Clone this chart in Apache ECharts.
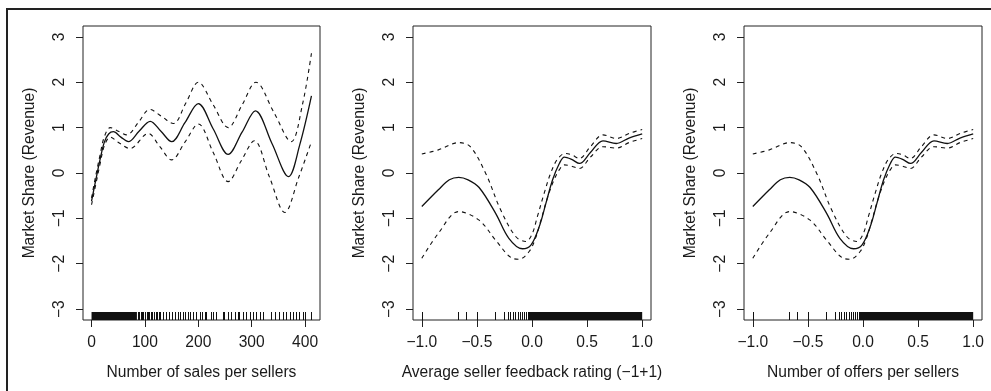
<!DOCTYPE html>
<html><head><meta charset="utf-8">
<script src="https://cdn.jsdelivr.net/npm/echarts@6/dist/echarts.min.js"></script>
<style>html,body{margin:0;padding:0;background:#fff}#c{width:991px;height:391px}</style>
</head><body><div id="c"></div>
<script>
// ---- tick labels ----
const yTicks = [-3, -2, -1, 0, 1, 2, 3];
const salesTicks = [0, 100, 200, 300, 400];
const ratingTicks = [-1, -0.5, 0, 0.5, 1];

// ---- panel titles ----
const yTitle = 'Market Share (Revenue)';
const xTitles = ['Number of sales per sellers', 'Average seller feedback rating (\u22121+1)', 'Number of offers per sellers'];

// ---- panel 1: number of sales per seller ----
const salesFit = [[0,-0.62],[8,-0.15],[16,0.3],[24,0.68],[32,0.86],[41,0.91],[55,0.79],[69,0.69],[89,0.92],[110,1.14],[130,0.92],[150,0.69],[175,1.11],[200,1.53],[228,0.97],[256,0.41],[282,0.9],[307,1.37],[338,0.65],[369,-0.08],[390,0.62],[412,1.70]];
const salesUpper = [[0,-0.55],[8,-0.05],[16,0.4],[24,0.8],[35,1.0],[50,0.92],[66,0.84],[88,1.12],[109,1.40],[131,1.25],[153,1.09],[177,1.55],[200,2.0],[228,1.5],[256,1.0],[282,1.5],[308,2.0],[341,1.35],[374,0.69],[395,1.5],[412,2.64]];
const salesLower = [[0,-0.7],[8,-0.25],[16,0.2],[24,0.6],[35,0.79],[52,0.66],[72,0.54],[106,0.87],[128,0.58],[150,0.29],[175,0.68],[200,1.08],[228,0.45],[256,-0.19],[280,0.26],[305,0.71],[333,-0.08],[362,-0.87],[388,-0.1],[412,0.69]];
const salesRugTicks = [87,89,92,95,97,100,103,106,108,111,114,117,120,123,126,128,134,140,145,150,156,162,165,172,175,181,184,190,196,203,206,212,215,224,228,234,246,249,256,262,268,274,277,284,290,296,302,308,315,321,336,343,352,358,364,371,377,383,389,396,400,412];
const salesRugDense = [[0,85]];

// ---- panel 2: average seller feedback rating ----
const ratingFit = [[-1.0,-0.74],[-0.85,-0.37],[-0.75,-0.15],[-0.665,-0.095],[-0.58,-0.15],[-0.48,-0.32],[-0.33,-0.89],[-0.21,-1.44],[-0.087,-1.67],[-0.01,-1.59],[0.066,-1.18],[0.126,-0.67],[0.187,-0.15],[0.248,0.21],[0.294,0.35],[0.36,0.30],[0.431,0.21],[0.53,0.45],[0.644,0.71],[0.765,0.65],[0.88,0.77],[1.0,0.86]];
const ratingUpper = [[-1.0,0.42],[-0.85,0.51],[-0.665,0.67],[-0.56,0.58],[-0.42,-0.01],[-0.285,-0.81],[-0.148,-1.40],[-0.056,-1.51],[0.0,-1.35],[0.05,-0.95],[0.11,-0.45],[0.17,0.0],[0.23,0.30],[0.30,0.43],[0.36,0.40],[0.43,0.32],[0.53,0.58],[0.644,0.84],[0.765,0.76],[0.88,0.87],[1.0,0.96]];
const ratingLower = [[-1.0,-1.88],[-0.85,-1.33],[-0.665,-0.85],[-0.48,-1.04],[-0.33,-1.48],[-0.178,-1.88],[-0.117,-1.90],[-0.026,-1.73],[0.03,-1.45],[0.08,-1.05],[0.14,-0.55],[0.20,-0.15],[0.25,0.08],[0.294,0.18],[0.36,0.15],[0.431,0.10],[0.53,0.35],[0.644,0.58],[0.765,0.55],[0.88,0.67],[1.0,0.76]];
const ratingRugTicks = [-1.0,-0.67,-0.6,-0.5,-0.34,-0.25,-0.22,-0.2,-0.17,-0.15,-0.13,-0.11,-0.09,-0.07,-0.05,-0.04];
const ratingRugDense = [[-0.03,1.0]];

// ---- panel 3: number of offers per seller (same shape as panel 2 in the picture) ----
const offersFit = ratingFit;
const offersUpper = ratingUpper;
const offersLower = ratingLower;
const offersRugTicks = ratingRugTicks;
const offersRugDense = ratingRugDense;

const yMin = -3.24, yMax = 3.24, rugLen = 8;
const font = '"Liberation Sans", Arial, Helvetica, sans-serif';
const ink = '#1a1a1a';
const fs = 15.6;
const fix = s => String(s).replace('-', '\u2212');

const grids = [
  {left: 83, top: 26, width: 237, height: 294},
  {left: 413, top: 26, width: 238, height: 294},
  {left: 744, top: 26, width: 238, height: 294}
].map(g => Object.assign(g, {show: true, borderColor: '#222', borderWidth: 1, backgroundColor: 'transparent'}));

function xAx(i, min, max, ticks, fmt) {
  return {
    type: 'value', gridIndex: i, min, max,
    axisLine: {show: false, onZero: false},
    axisTick: {show: true, length: 7, customValues: ticks, lineStyle: {color: '#222', width: 1}},
    axisLabel: {customValues: ticks, margin: 15, fontSize: fs, color: ink, fontFamily: font, formatter: fmt},
    splitLine: {show: false},
    name: xTitles[i], nameLocation: 'middle', nameGap: 45,
    nameTextStyle: {fontSize: fs, color: ink, fontFamily: font}
  };
}
function yAx(i) {
  return {
    type: 'value', gridIndex: i, min: yMin, max: yMax,
    axisLine: {show: false, onZero: false},
    axisTick: {show: true, length: 7, customValues: yTicks, lineStyle: {color: '#222', width: 1}},
    axisLabel: {customValues: yTicks, rotate: 90, margin: 15, fontSize: fs, color: ink, fontFamily: font, formatter: v => fix(v)},
    splitLine: {show: false},
    name: yTitle, nameLocation: 'middle', nameGap: 45,
    nameTextStyle: {fontSize: fs, color: ink, fontFamily: font}
  };
}
function lineS(i, data, dashed) {
  return {
    type: 'line', xAxisIndex: i, yAxisIndex: i, data, showSymbol: false, smooth: 0.35,
    silent: true, animation: false,
    lineStyle: {color: '#111', width: dashed ? 1.1 : 1.3, type: dashed ? [4, 4] : 'solid'}
  };
}
function rugS(i, ticks, bands) {
  const data = ticks.map(t => [t, t]).concat(bands);
  return {
    type: 'custom', xAxisIndex: i, yAxisIndex: i, data, silent: true, animation: false,
    encode: {x: [0, 1]},
    renderItem: (params, api) => {
      const a = api.coord([api.value(0), yMin]);
      const b = api.coord([api.value(1), yMin]);
      if (b[0] - a[0] < 1) {
        const x = Math.round(a[0]) + 0.5;
        return {type: 'line', shape: {x1: x, y1: a[1], x2: x, y2: a[1] - rugLen}, style: {stroke: '#111', lineWidth: 1}};
      }
      return {type: 'rect', shape: {x: a[0], y: a[1] - rugLen, width: b[0] - a[0], height: rugLen}, style: {fill: '#111'}};
    }
  };
}

const chart = echarts.init(document.getElementById('c'), null, {renderer: 'canvas'});
chart.setOption({
  animation: false,
  backgroundColor: '#fff',
  grid: grids,
  xAxis: [
    xAx(0, -16, 428, salesTicks, v => fix(v)),
    xAx(1, -1.08, 1.08, ratingTicks, v => fix(Number(v).toFixed(1))),
    xAx(2, -1.08, 1.08, ratingTicks, v => fix(Number(v).toFixed(1)))
  ],
  yAxis: [yAx(0), yAx(1), yAx(2)],
  graphic: [{type: 'rect', shape: {x: 7, y: 9, width: 1000, height: 400}, style: {fill: 'none', stroke: '#222', lineWidth: 2}, silent: true}],
  series: [
    rugS(0, salesRugTicks, salesRugDense),
    lineS(0, salesFit, false), lineS(0, salesUpper, true), lineS(0, salesLower, true),
    rugS(1, ratingRugTicks, ratingRugDense),
    lineS(1, ratingFit, false), lineS(1, ratingUpper, true), lineS(1, ratingLower, true),
    rugS(2, offersRugTicks, offersRugDense),
    lineS(2, offersFit, false), lineS(2, offersUpper, true), lineS(2, offersLower, true)
  ]
});
</script></body></html>
